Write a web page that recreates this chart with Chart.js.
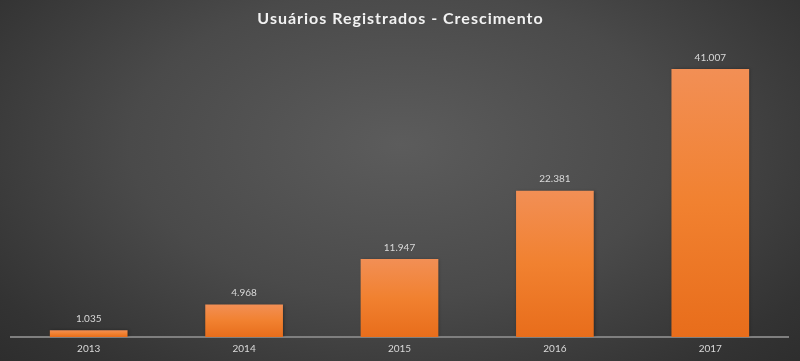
<!DOCTYPE html>
<html>
<head>
<meta charset="utf-8">
<script src="https://cdn.jsdelivr.net/npm/chart.js@4.4.0/dist/chart.umd.min.js"></script>
<style>
  html, body { margin: 0; padding: 0; }
  body { width: 800px; height: 361px; overflow: hidden;
    background: radial-gradient(ellipse 75% 95% at 50% 40%, #5c5c5c 0%, #4a4a4a 45%, #333333 80%, #2a2a2a 100%); }
  #wrap { position: relative; width: 800px; height: 361px; }
</style>
</head>
<body>
<div id="wrap"><canvas id="c" width="800" height="361"></canvas></div>
<script>
const titleText = 'Usuários Registrados - Crescimento';
const categories = ['2013', '2014', '2015', '2016', '2017'];
const users = [1035, 4968, 11947, 22381, 41007];
const yMax = 45000;

function fmt(v) {
  return String(v).replace(/\B(?=(\d{3})+(?!\d))/g, '.');
}

const titlePlugin = {
  id: 'spacedTitle',
  afterDraw(chart) {
    const ctx = chart.ctx;
    ctx.save();
    ctx.letterSpacing = '1px';
    ctx.font = 'bold 16px Lato, "Liberation Sans", sans-serif';
    ctx.fillStyle = '#f2f2f2';
    ctx.textAlign = 'center';
    ctx.textBaseline = 'middle';
    ctx.fillText(titleText, chart.width / 2 + 0.5, 19);
    ctx.restore();
  }
};

const shadowPlugin = {
  id: 'barShadow',
  beforeDatasetsDraw(chart) {
    const ctx = chart.ctx;
    ctx.save();
    ctx.shadowColor = 'rgba(0,0,0,0.35)';
    ctx.shadowBlur = 3;
    ctx.shadowOffsetX = 1;
    ctx.shadowOffsetY = 0;
  },
  afterDatasetsDraw(chart) {
    chart.ctx.restore();
  }
};

const valueLabels = {
  id: 'valueLabels',
  afterDatasetsDraw(chart) {
    const ctx = chart.ctx;
    const meta = chart.getDatasetMeta(0);
    ctx.save();
    ctx.font = '10px Lato, "Liberation Sans", sans-serif';
    ctx.fillStyle = '#d9d9d9';
    ctx.textAlign = 'center';
    ctx.textBaseline = 'middle';
    meta.data.forEach((bar, i) => {
      ctx.fillText(fmt(chart.data.datasets[0].data[i]), bar.x, bar.y - 11.5);
    });
    ctx.restore();
  }
};

function barGradient(context) {
  const chart = context.chart;
  const yScale = chart.scales.y;
  if (!chart.chartArea || !yScale || context.type !== 'data') return '#ee7d2f';
  const top = yScale.getPixelForValue(context.raw);
  const bottom = yScale.getPixelForValue(0);
  const g = chart.ctx.createLinearGradient(0, top, 0, bottom);
  g.addColorStop(0, '#f28f55');
  g.addColorStop(0.5, '#f18130');
  g.addColorStop(1, '#e86d1b');
  return g;
}

new Chart(document.getElementById('c'), {
  type: 'bar',
  data: {
    labels: categories,
    datasets: [{
      data: users,
      backgroundColor: barGradient,
      borderWidth: 0,
      categoryPercentage: 1.0,
      barPercentage: 0.5
    }]
  },
  options: {
    responsive: false,
    animation: false,
    layout: { padding: { left: 11, right: 12, top: 43, bottom: 0 } },
    plugins: {
      legend: { display: false },
      tooltip: { enabled: false },
      title: { display: false }
    },
    scales: {
      x: {
        grid: { display: false, drawTicks: false },
        border: { display: true, color: '#7f7f7f', width: 2 },
        ticks: { color: '#d9d9d9', font: { family: 'Lato, "Liberation Sans", sans-serif', size: 10 }, padding: 6 }
      },
      y: {
        display: false,
        min: 0,
        max: yMax
      }
    }
  },
  plugins: [titlePlugin, shadowPlugin, valueLabels]
});
</script>
</body>
</html>
